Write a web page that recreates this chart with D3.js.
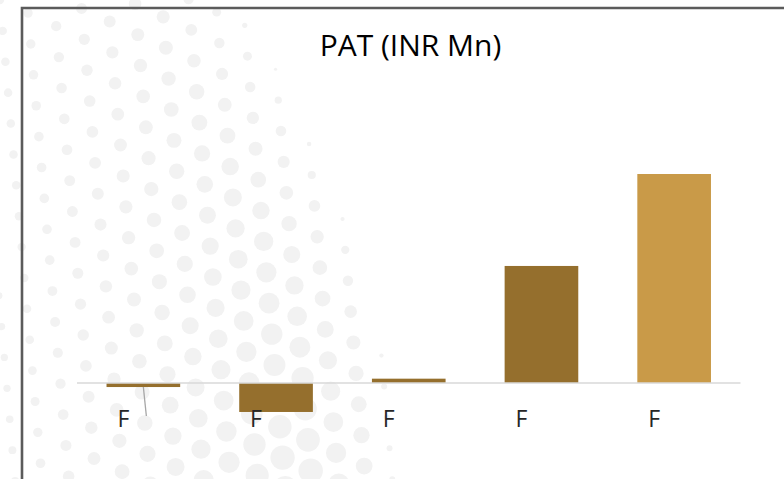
<!DOCTYPE html>
<html>
<head>
<meta charset="utf-8">
<script src="https://cdn.jsdelivr.net/npm/d3@7"></script>
<style>
  html, body { margin: 0; padding: 0; background: #ffffff; }
  svg { display: block; }
</style>
</head>
<body>
<svg id="chart" width="784" height="479"></svg>
<script>
// PAT by year (INR Mn)
const categories = ["F", "F", "F", "F", "F"];
const patValues = [-28, -201, 30, 812, 1450];
const barColors = ["#956F2D", "#956F2D", "#956F2D", "#956F2D", "#C99A48"];
const titleText = "PAT (INR Mn)";

const W = 784, H = 479;
const svg = d3.select("#chart");

// Decorative halftone dots in the background
const bgDots = svg.append("g").attr("fill", "#f2f2f2");
const edgeX = d3.scaleLinear().domain([0, 130, 250, 380, 479]).range([240, 305, 355, 385, 392]).clamp(true);
const sizeByInset = d3.scaleLinear().domain([-6, 20, 90, 380]).range([1.5, 8, 13, 4]).clamp(true);
const spacing = 31, rowGap = spacing * Math.sqrt(3) / 2, ang = 25 * Math.PI / 180;
const dots = [];
for (let j = -30; j < 40; j++) {
  for (let i = -30; i < 40; i++) {
    const gx = i * spacing + (j % 2 ? spacing / 2 : 0);
    const gy = j * rowGap;
    const x = gx * Math.cos(ang) - gy * Math.sin(ang);
    const y = gx * Math.sin(ang) + gy * Math.cos(ang);
    if (x < -15 || x > W || y < -15 || y > H + 15) continue;
    const s = edgeX(y) - x;
    if (s < -6) continue;
    const r = sizeByInset(s) * (0.5 + 0.5 * Math.max(0, Math.min(1, y / H)));
    if (r < 1.2) continue;
    dots.push({x, y, r});
  }
}
bgDots.selectAll("circle").data(dots).join("circle")
  .attr("cx", d => d.x).attr("cy", d => d.y).attr("r", d => d.r);

// Frame
svg.append("path")
  .attr("d", `M22,${H} L22,8 L${W},8`)
  .attr("fill", "none").attr("stroke", "#5b5b5b").attr("stroke-width", 2.6);

// Scales
const x = d3.scaleBand()
  .domain(d3.range(categories.length))
  .range([77, 740.5])
  .paddingInner(0.445)
  .paddingOuter(0.2225);
const y = d3.scaleLinear().domain([0, 1450]).range([383, 174]);

// Bars
svg.append("g").selectAll("rect").data(patValues).join("rect")
  .attr("x", (d, i) => x(i))
  .attr("width", x.bandwidth())
  .attr("y", d => Math.min(y(d), y(0)))
  .attr("height", d => Math.abs(y(d) - y(0)))
  .attr("fill", (d, i) => barColors[i]);

// Zero line
svg.append("line")
  .attr("x1", x.range()[0]).attr("x2", x.range()[1])
  .attr("y1", y(0)).attr("y2", y(0))
  .attr("stroke", "#d9d9d9").attr("stroke-width", 1.7);

// Leader line from the first bar
const c0 = x(0) + x.bandwidth() / 2;
svg.append("line")
  .attr("x1", c0).attr("y1", y(patValues[0]))
  .attr("x2", c0 + 3).attr("y2", y(0) + 33)
  .attr("stroke", "#a6a6a6").attr("stroke-width", 1.3);

// Category labels
svg.append("g").selectAll("text").data(categories).join("text")
  .attr("x", (d, i) => x(i) + x.bandwidth() / 2 - 20)
  .attr("y", 427)
  .attr("text-anchor", "middle")
  .attr("font-family", "'Open Sans', sans-serif")
  .attr("font-size", 23)
  .attr("fill", "#262626")
  .text(d => d);

// Title
svg.append("text")
  .attr("x", 410.5).attr("y", 56)
  .attr("text-anchor", "middle")
  .attr("font-family", "'Open Sans', sans-serif")
  .attr("font-size", 30)
  .attr("fill", "#000000")
  .text(titleText);
</script>
</body>
</html>
